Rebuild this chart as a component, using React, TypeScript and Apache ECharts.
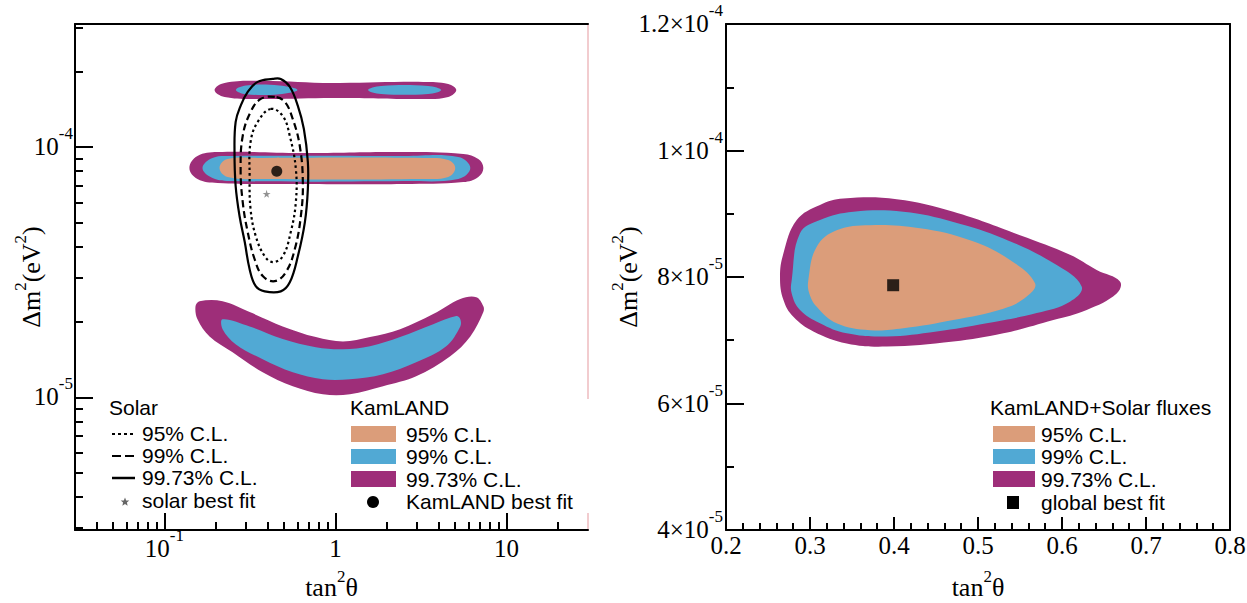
import React, { useEffect, useRef } from 'react';
import * as echarts from 'echarts';

// ---------- colours ----------
const ORANGE = '#DB9D7A';
const BLUE = '#51A9D4';
const PURPLE = '#9E2E79';

const SERIF = '"Liberation Serif", "Times New Roman", serif';
const SANS = '"Liberation Sans", Arial, sans-serif';

// ---------- left panel axes (log-log) ----------
const leftXMajor = [0.1, 1, 10];
const leftXMajorLabels = [
  { base: '10', exp: '-1' },
  { base: '1', exp: '' },
  { base: '10', exp: '' },
];
const leftXMinor = [0.04, 0.05, 0.06, 0.07, 0.08, 0.09, 0.2, 0.3, 0.4, 0.5, 0.6, 0.7, 0.8, 0.9, 2, 3, 4, 5, 6, 7, 8, 9, 20];
const leftYMajor = [1e-5, 1e-4];
const leftYMajorLabels = [
  { base: '10', exp: '-5' },
  { base: '10', exp: '-4' },
];
const leftYMinor = [3e-6, 4e-6, 5e-6, 6e-6, 7e-6, 8e-6, 9e-6, 2e-5, 3e-5, 4e-5, 5e-5, 6e-5, 7e-5, 8e-5, 9e-5, 2e-4, 3e-4];

// ---------- right panel axes (linear) ----------
const rightXLabels = ['0.2', '0.3', '0.4', '0.5', '0.6', '0.7', '0.8'];
const rightYLabels = [
  { base: '4×10', exp: '-5' },
  { base: '6×10', exp: '-5' },
  { base: '8×10', exp: '-5' },
  { base: '1×10', exp: '-4' },
  { base: '1.2×10', exp: '-4' },
];

// ---------- Solar contours (tan^2 theta, dm^2) ----------
const solar9973 = [
  [0.430, 1.87e-4], [0.351, 1.82e-4], [0.307, 1.66e-4], [0.279, 1.46e-4], [0.261, 1.26e-4],
  [0.257, 9.55e-5], [0.261, 6.98e-5], [0.275, 5.30e-5], [0.295, 4.17e-5], [0.315, 3.25e-5],
  [0.342, 2.78e-5], [0.386, 2.65e-5], [0.479, 2.65e-5], [0.541, 2.88e-5], [0.603, 3.66e-5],
  [0.663, 5.01e-5], [0.690, 6.79e-5], [0.690, 8.71e-5], [0.654, 1.18e-4], [0.603, 1.46e-4],
  [0.541, 1.74e-4], [0.479, 1.87e-4],
];
const solar99 = [
  [0.442, 1.585e-4], [0.366, 1.556e-4], [0.319, 1.38e-4], [0.287, 1.107e-4], [0.279, 8.17e-5],
  [0.287, 6.03e-5], [0.307, 4.57e-5], [0.337, 3.56e-5], [0.376, 3.05e-5], [0.442, 2.91e-5],
  [0.513, 3.16e-5], [0.579, 3.91e-5], [0.628, 5.30e-5], [0.645, 7.24e-5], [0.619, 1.009e-4],
  [0.563, 1.294e-4], [0.506, 1.514e-4],
];
const solar95 = [
  [0.418, 1.419e-4], [0.351, 1.259e-4], [0.319, 1.047e-4], [0.315, 7.66e-5], [0.319, 5.65e-5],
  [0.342, 4.41e-5], [0.386, 3.66e-5], [0.430, 3.47e-5], [0.492, 3.66e-5], [0.548, 4.57e-5],
  [0.587, 6.03e-5], [0.587, 8.17e-5], [0.541, 1.107e-4], [0.492, 1.33e-4],
];
const solarBest = [[0.396, 6.5e-5]];

// ---------- KamLAND contours ----------
const kamUpper9973 = [
  [0.1965, 1.69e-4], [0.2248, 1.803e-4], [0.3756, 1.837e-4], [0.967, 1.803e-4], [3.26, 1.82e-4],
  [4.568, 1.786e-4], [5.09, 1.69e-4], [4.568, 1.585e-4], [3.26, 1.556e-4], [0.967, 1.57e-4],
  [0.3756, 1.556e-4], [0.2248, 1.585e-4],
];
const kamUpper99a = [[0.262, 1.69e-4], [0.300, 1.76e-4], [0.47, 1.76e-4], [0.60, 1.69e-4], [0.47, 1.625e-4], [0.300, 1.625e-4]];
const kamUpper99b = [[1.551, 1.69e-4], [1.849, 1.754e-4], [3.487, 1.754e-4], [4.157, 1.69e-4], [3.487, 1.629e-4], [1.849, 1.629e-4]];
const kamMid9973 = [
  [0.140, 8.24e-5], [0.156, 9.20e-5], [0.205, 9.55e-5], [0.645, 9.46e-5], [2.49, 9.55e-5],
  [5.595, 9.38e-5], [6.85, 8.95e-5], [7.33, 8.24e-5], [6.85, 7.59e-5], [5.595, 7.24e-5],
  [2.49, 7.11e-5], [0.645, 7.11e-5], [0.205, 7.18e-5], [0.156, 7.45e-5],
];
const kamMid99 = [
  [0.167, 8.24e-5], [0.191, 9.04e-5], [0.250, 9.20e-5], [2.49, 9.20e-5], [5.23, 9.12e-5],
  [6.15, 8.24e-5], [5.23, 7.45e-5], [2.49, 7.31e-5], [0.250, 7.31e-5], [0.191, 7.52e-5],
];
const kamMid95 = [
  [0.210, 8.24e-5], [0.234, 8.95e-5], [0.376, 9.04e-5], [3.26, 9.04e-5], [4.568, 8.87e-5],
  [5.02, 8.24e-5], [4.568, 7.59e-5], [3.26, 7.45e-5], [0.376, 7.45e-5], [0.234, 7.59e-5],
];
const kamLow9973 = [
  [0.1604, 2.42e-5], [0.2189, 2.42e-5], [0.3151, 2.19e-5], [0.4921, 1.92e-5], [0.7685, 1.74e-5],
  [1.107, 1.67e-5], [1.593, 1.74e-5], [2.389, 1.87e-5], [3.731, 2.15e-5], [5.374, 2.47e-5],
  [6.668, 2.51e-5], [7.331, 2.31e-5], [7.331, 2.19e-5], [6.151, 1.75e-5], [4.694, 1.459e-5],
  [2.966, 1.213e-5], [1.899, 1.107e-5], [1.216, 1.028e-5], [0.8446, 1.028e-5], [0.5632, 1.107e-5],
  [0.3756, 1.259e-5], [0.2504, 1.514e-5], [0.1836, 1.75e-5], [0.1561, 2.05e-5], [0.152, 2.31e-5],
];
const kamLow99 = [
  [0.2189, 2.05e-5], [0.3151, 1.92e-5], [0.4921, 1.71e-5], [0.7685, 1.585e-5], [1.107, 1.556e-5],
  [1.593, 1.60e-5], [2.389, 1.74e-5], [3.731, 1.96e-5], [5.091, 2.11e-5], [5.374, 2.05e-5],
  [5.374, 1.92e-5], [4.447, 1.60e-5], [2.966, 1.38e-5], [1.899, 1.236e-5], [1.216, 1.18e-5],
  [0.8446, 1.18e-5], [0.5632, 1.259e-5], [0.3756, 1.419e-5], [0.2608, 1.63e-5], [0.2189, 1.87e-5],
];
const kamBest = [[0.454, 8.0e-5]];

// ---------- KamLAND + Solar fluxes (right panel) ----------
const glob9973 = [
  [0.2842, 8.90e-5], [0.3119, 9.14e-5], [0.3397, 9.24e-5], [0.4032, 9.23e-5], [0.4706, 9.03e-5],
  [0.55, 8.66e-5], [0.6095, 8.35e-5], [0.6413, 8.11e-5], [0.669, 7.93e-5], [0.6651, 7.74e-5],
  [0.6294, 7.48e-5], [0.5897, 7.32e-5], [0.5302, 7.11e-5], [0.4706, 6.98e-5], [0.3913, 6.90e-5],
  [0.3437, 6.95e-5], [0.304, 7.14e-5], [0.2802, 7.37e-5], [0.2683, 7.64e-5], [0.2643, 8.00e-5],
  [0.2683, 8.37e-5],
];
const glob99 = [
  [0.2782, 7.95e-5], [0.2881, 8.69e-5], [0.3119, 8.90e-5], [0.3516, 9.03e-5], [0.4111, 9.03e-5],
  [0.4706, 8.87e-5], [0.5302, 8.61e-5], [0.5897, 8.22e-5], [0.6234, 7.85e-5], [0.6095, 7.61e-5],
  [0.5699, 7.43e-5], [0.5103, 7.27e-5], [0.4508, 7.14e-5], [0.3913, 7.06e-5], [0.3437, 7.11e-5],
  [0.3119, 7.27e-5], [0.2881, 7.48e-5], [0.2782, 7.74e-5],
];
const glob95 = [
  [0.298, 7.95e-5], [0.308, 8.48e-5], [0.3317, 8.74e-5], [0.3714, 8.82e-5], [0.431, 8.77e-5],
  [0.4905, 8.58e-5], [0.5381, 8.27e-5], [0.5679, 7.90e-5], [0.558, 7.69e-5], [0.5302, 7.50e-5],
  [0.4706, 7.32e-5], [0.4111, 7.19e-5], [0.3714, 7.16e-5], [0.3317, 7.27e-5], [0.308, 7.53e-5],
  [0.2992, 7.74e-5],
];
const globalBest = [[0.399, 7.87e-5]];

// ---------- helpers ----------
const richTick: any = {
  b: { fontFamily: SERIF, fontSize: 25, lineHeight: 34, verticalAlign: 'bottom', color: '#000' },
  s: { fontFamily: SERIF, fontSize: 17, lineHeight: 17, verticalAlign: 'top', color: '#000' },
};
const richName: any = {
  b: { fontFamily: SERIF, fontSize: 26, lineHeight: 32, verticalAlign: 'bottom', color: '#000' },
  s: { fontFamily: SERIF, fontSize: 17, lineHeight: 17, verticalAlign: 'top', color: '#000' },
};
const fmt = (l: { base: string; exp: string }) => (l.exp ? `{b|${l.base}}{s|${l.exp}}` : `{b|${l.base}}`);
const findLog = (arr: number[], v: number) => arr.findIndex((a) => Math.abs(Math.log10(a) - Math.log10(v)) < 1e-4);

const AX = { color: '#000', width: 2 };

const area = (pts: number[][], fill: string, xi: number, yi: number, z: number, smooth = 0.4) => ({
  type: 'custom',
  xAxisIndex: xi,
  yAxisIndex: yi,
  z,
  silent: true,
  data: pts,
  renderItem: (params: any, api: any) =>
    params.dataIndex === 0
      ? { type: 'polygon', shape: { points: pts.map((p) => api.coord(p)), smooth }, style: { fill } }
      : null,
});
const contour = (pts: number[][], dash: number[] | null, xi: number, yi: number) => ({
  type: 'custom',
  xAxisIndex: xi,
  yAxisIndex: yi,
  z: 10,
  silent: true,
  data: pts,
  renderItem: (params: any, api: any) =>
    params.dataIndex === 0
      ? {
          type: 'polygon',
          shape: { points: pts.map((p) => api.coord(p)), smooth: 0.4 },
          style: { fill: 'none', stroke: '#000', lineWidth: 2.2, lineDash: dash || undefined },
        }
      : null,
});

const starPts = (cx: number, cy: number, R: number, r: number) => {
  const out: number[][] = [];
  for (let i = 0; i < 10; i++) {
    const a = -Math.PI / 2 + (i * Math.PI) / 5;
    const rr = i % 2 === 0 ? R : r;
    out.push([cx + rr * Math.cos(a), cy + rr * Math.sin(a)]);
  }
  return out;
};

const txt = (x: number, y: number, text: string, size = 21) => ({
  type: 'text',
  x,
  y,
  z: 100,
  style: {
    text, fontFamily: SANS, fontSize: size, lineHeight: 19, fill: '#000', verticalAlign: 'middle', align: 'left',
  },
});
const swatch = (x: number, y: number, w: number, h: number, fill: string) => ({
  type: 'rect',
  z: 100,
  shape: { x, y, width: w, height: h },
  style: { fill },
});

function buildOption(): any {
  const grids = [
    { left: 75, top: 24, width: 513, height: 506, outerBoundsMode: 'none' },
    { left: 726, top: 24, width: 504, height: 506, outerBoundsMode: 'none' },
  ];

  const xAxis = [
    {
      type: 'log', gridIndex: 0, min: 0.03, max: 30, logBase: 10, position: 'bottom',
      axisLine: { show: true, onZero: false, lineStyle: AX },
      axisTick: { show: true, inside: true, length: 17, customValues: leftXMajor, lineStyle: AX },
      axisLabel: {
        show: true, customValues: leftXMajor, margin: -3, rich: richTick,
        formatter: (v: number) => { const i = findLog(leftXMajor, v); return i < 0 ? '' : fmt(leftXMajorLabels[i]); },
      },
      splitLine: { show: false },
      name: '{b|tan}{s|2}{b|θ}', nameLocation: 'middle', nameGap: 38, nameMoveOverlap: false,
      nameTextStyle: { rich: richName },
    },
    {
      type: 'log', gridIndex: 0, min: 0.03, max: 30, logBase: 10, position: 'bottom',
      axisLine: { show: false },
      axisTick: { show: true, inside: true, length: 8, customValues: leftXMinor, lineStyle: AX },
      axisLabel: { show: false }, splitLine: { show: false },
    },
    {
      type: 'log', gridIndex: 0, min: 0.03, max: 30, logBase: 10, position: 'top',
      axisLine: { show: true, onZero: false, lineStyle: AX },
      axisTick: { show: false }, axisLabel: { show: false }, splitLine: { show: false },
    },
    {
      type: 'value', gridIndex: 1, min: 0.2, max: 0.8, interval: 0.1, position: 'bottom',
      axisLine: { show: true, onZero: false, lineStyle: AX },
      axisTick: { show: true, inside: true, length: 13, lineStyle: AX },
      minorTick: { show: true, splitNumber: 5, length: 7, lineStyle: AX },
      axisLabel: {
        show: true, margin: 3, fontFamily: SERIF, fontSize: 25, color: '#000',
        formatter: (v: number) => rightXLabels[Math.round((v - 0.2) / 0.1)] ?? '',
      },
      splitLine: { show: false }, minorSplitLine: { show: false },
      name: '{b|tan}{s|2}{b|θ}', nameLocation: 'middle', nameGap: 38, nameMoveOverlap: false,
      nameTextStyle: { rich: richName },
    },
    {
      type: 'value', gridIndex: 1, min: 0.2, max: 0.8, position: 'top',
      axisLine: { show: true, onZero: false, lineStyle: AX },
      axisTick: { show: false }, axisLabel: { show: false }, splitLine: { show: false },
    },
  ];

  const yAxis = [
    {
      type: 'log', gridIndex: 0, min: 2.95e-6, max: 3.1e-4, logBase: 10, position: 'left',
      axisLine: { show: true, onZero: false, lineStyle: AX },
      axisTick: { show: true, inside: true, length: 18, customValues: leftYMajor, lineStyle: AX },
      axisLabel: {
        show: true, customValues: leftYMajor, margin: 2, rich: richTick, padding: [0, 0, 10, 0],
        formatter: (v: number) => { const i = findLog(leftYMajor, v); return i < 0 ? '' : fmt(leftYMajorLabels[i]); },
      },
      splitLine: { show: false },
      name: '{b|Δm}{s|2}{b|(eV}{s|2}{b|)}', nameLocation: 'middle', nameGap: 31, nameRotate: 90,
      nameMoveOverlap: false, nameTextStyle: { rich: richName },
    },
    {
      type: 'log', gridIndex: 0, min: 2.95e-6, max: 3.1e-4, logBase: 10, position: 'left',
      axisLine: { show: false },
      axisTick: { show: true, inside: true, length: 8, customValues: leftYMinor, lineStyle: AX },
      axisLabel: { show: false }, splitLine: { show: false },
    },
    {
      type: 'log', gridIndex: 0, min: 2.95e-6, max: 3.1e-4, logBase: 10, position: 'right',
      axisLine: { show: true, onZero: false, lineStyle: { color: '#F2CCCF', width: 2 } },
      axisTick: { show: false }, axisLabel: { show: false }, splitLine: { show: false },
    },
    {
      type: 'value', gridIndex: 1, min: 4e-5, max: 1.2e-4, interval: 2e-5, position: 'left',
      axisLine: { show: true, onZero: false, lineStyle: AX },
      axisTick: { show: true, inside: true, length: 18, lineStyle: AX },
      minorTick: { show: true, splitNumber: 2, length: 8, lineStyle: AX },
      axisLabel: {
        show: true, margin: 3, rich: richTick, padding: [0, 0, 10, 0],
        formatter: (v: number) => { const l = rightYLabels[Math.round((v - 4e-5) / 2e-5)]; return l ? fmt(l) : ''; },
      },
      splitLine: { show: false }, minorSplitLine: { show: false },
      name: '{b|Δm}{s|2}{b|(eV}{s|2}{b|)}', nameLocation: 'middle', nameGap: 85, nameRotate: 90,
      nameMoveOverlap: false, nameTextStyle: { rich: richName },
    },
    {
      type: 'value', gridIndex: 1, min: 4e-5, max: 1.2e-4, position: 'right',
      axisLine: { show: true, onZero: false, lineStyle: AX },
      axisTick: { show: false }, axisLabel: { show: false }, splitLine: { show: false },
    },
  ];

  const series: any[] = [
    area(kamUpper9973, PURPLE, 0, 0, 2),
    area(kamUpper99a, BLUE, 0, 0, 3),
    area(kamUpper99b, BLUE, 0, 0, 3),
    area(kamMid9973, PURPLE, 0, 0, 2),
    area(kamMid99, BLUE, 0, 0, 3),
    area(kamMid95, ORANGE, 0, 0, 4),
    area(kamLow9973, PURPLE, 0, 0, 2, 0.35),
    area(kamLow99, BLUE, 0, 0, 3, 0.35),
    contour(solar9973, null, 0, 0),
    contour(solar99, [7, 4], 0, 0),
    contour(solar95, [2.5, 3], 0, 0),
    {
      type: 'scatter', xAxisIndex: 0, yAxisIndex: 0, z: 20, data: kamBest, symbol: 'circle', symbolSize: 11,
      itemStyle: { color: '#000' }, silent: true,
    },
    {
      type: 'scatter', xAxisIndex: 0, yAxisIndex: 0, z: 20, data: solarBest,
      symbol: 'path://M50,0 L61,35 L98,35 L68,57 L79,91 L50,70 L21,91 L32,57 L2,35 L39,35 Z', symbolSize: 8,
      itemStyle: { color: '#777' }, silent: true,
    },
    area(glob9973, PURPLE, 3, 3, 2),
    area(glob99, BLUE, 3, 3, 3),
    area(glob95, ORANGE, 3, 3, 4),
    {
      type: 'scatter', xAxisIndex: 3, yAxisIndex: 3, z: 20, data: globalBest, symbol: 'rect', symbolSize: 12,
      itemStyle: { color: '#000' }, silent: true,
    },
  ];

  const graphic = [
    // left: Solar legend
    txt(109, 407, 'Solar'),
    { type: 'line', z: 100, shape: { x1: 112, y1: 434, x2: 135, y2: 434 }, style: { stroke: '#000', lineWidth: 2, lineDash: [3, 3] } },
    txt(142, 433, '95% C.L.'),
    { type: 'line', z: 100, shape: { x1: 112, y1: 456, x2: 135, y2: 456 }, style: { stroke: '#000', lineWidth: 2, lineDash: [9, 4] } },
    txt(142, 455, '99% C.L.'),
    { type: 'line', z: 100, shape: { x1: 112, y1: 478, x2: 135, y2: 478 }, style: { stroke: '#000', lineWidth: 2.5 } },
    txt(142, 477, '99.73% C.L.'),
    { type: 'polygon', z: 100, shape: { points: starPts(125, 502, 4.5, 2) }, style: { fill: '#666' } },
    txt(142, 500, 'solar best fit'),
    // left: KamLAND legend (white box hides the frame behind it)
    { type: 'rect', z: 99, shape: { x: 344, y: 399, width: 250, height: 114 }, style: { fill: '#fff' } },
    txt(350, 407, 'KamLAND'),
    swatch(351, 426, 45, 16, ORANGE),
    txt(406, 434, '95% C.L.'),
    swatch(351, 449, 45, 15, BLUE),
    txt(406, 456, '99% C.L.'),
    swatch(351, 471, 45, 16, PURPLE),
    txt(406, 479, '99.73% C.L.'),
    { type: 'circle', z: 100, shape: { cx: 373, cy: 502, r: 6 }, style: { fill: '#000' } },
    txt(406, 501, 'KamLAND best fit'),
    // right legend
    txt(990, 407, 'KamLAND+Solar fluxes'),
    swatch(993, 426, 42, 16, ORANGE),
    txt(1041, 434, '95% C.L.'),
    swatch(993, 449, 42, 15, BLUE),
    txt(1041, 456, '99% C.L.'),
    swatch(993, 471, 42, 16, PURPLE),
    txt(1041, 479, '99.73% C.L.'),
    swatch(1007, 496, 12, 13, '#000'),
    txt(1041, 502, 'global best fit'),
  ];

  return { animation: false, backgroundColor: '#fff', grid: grids, xAxis, yAxis, series, graphic };
}

export default function App() {
  const ref = useRef<HTMLDivElement>(null);
  useEffect(() => {
    document.body.style.margin = '0';
    const chart = echarts.init(ref.current as HTMLDivElement, null, { renderer: 'svg' });
    chart.setOption(buildOption());
    return () => chart.dispose();
  }, []);
  return <div ref={ref} style={{ width: 1247, height: 603 }} />;
}
